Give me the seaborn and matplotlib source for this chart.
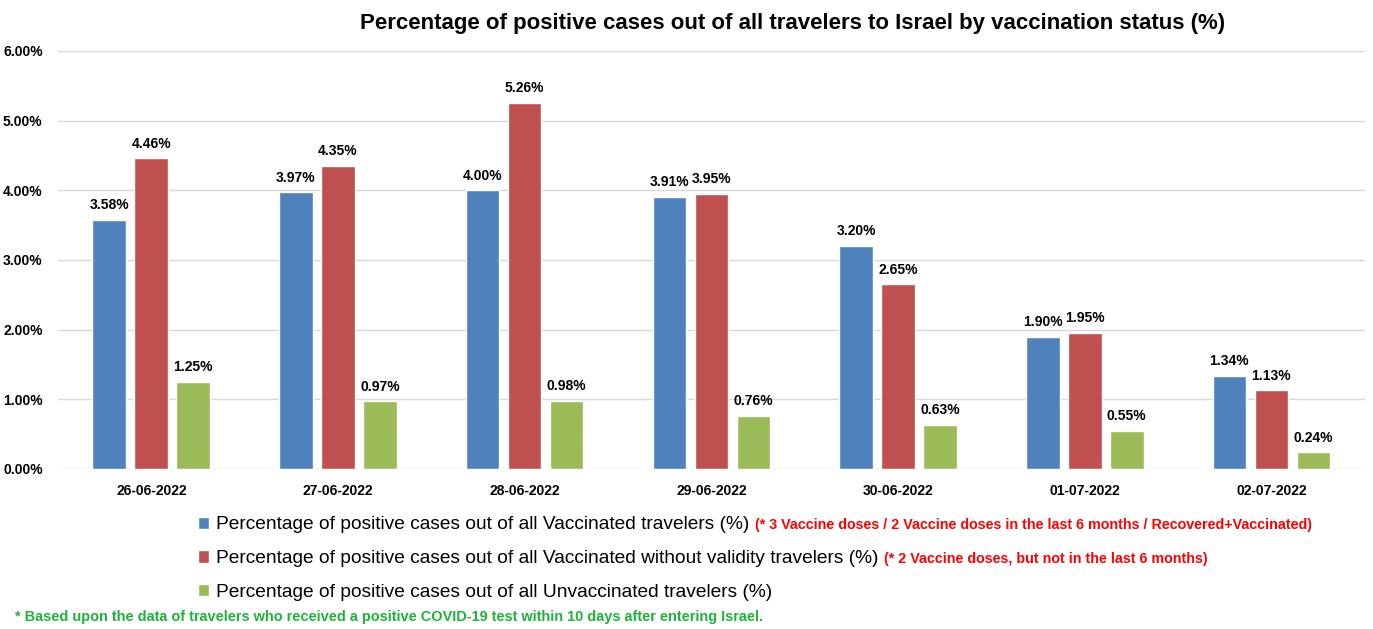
import pandas as pd
import seaborn as sns
import matplotlib.pyplot as plt
from matplotlib.patches import Patch

# Datos del gráfico
dates = ['26-06-2022', '27-06-2022', '28-06-2022', '29-06-2022',
         '30-06-2022', '01-07-2022', '02-07-2022']
vaccinated = [3.58, 3.97, 4.00, 3.91, 3.20, 1.90, 1.34]
without_validity = [4.46, 4.35, 5.26, 3.95, 2.65, 1.95, 1.13]
unvaccinated = [1.25, 0.97, 0.98, 0.76, 0.63, 0.55, 0.24]

series_names = [
    'Percentage of positive cases out of all Vaccinated travelers (%)',
    'Percentage of positive cases out of all Vaccinated without validity travelers (%)',
    'Percentage of positive cases out of all Unvaccinated travelers (%)',
]
series_notes = [
    '(* 3 Vaccine doses / 2 Vaccine doses in the last 6 months / Recovered+Vaccinated)',
    '(* 2 Vaccine doses, but not in the last 6 months)',
    '',
]
colors = ['#4f81bd', '#c0504d', '#9bbb59']

df = pd.DataFrame({
    'date': dates * 3,
    'value': vaccinated + without_validity + unvaccinated,
    'serie': [series_names[0]] * 7 + [series_names[1]] * 7 + [series_names[2]] * 7,
})

sns.set_style('white')
plt.rcParams['font.family'] = ['Liberation Sans', 'DejaVu Sans']
plt.rcParams['text.color'] = 'black'
plt.rcParams['xtick.color'] = 'black'
plt.rcParams['ytick.color'] = 'black'

fig = plt.figure(figsize=(13.73, 6.29), dpi=100)
ax = fig.add_axes([0.0422, 0.2544, 0.9518, 0.6646])

sns.barplot(data=df, x='date', y='value', hue='serie', palette=colors,
            width=0.675, gap=0.2, ax=ax, legend=False, saturation=1)

# Etiquetas de valores
for cont in ax.containers:
    for bar in cont:
        h = bar.get_height()
        ax.annotate('%.2f%%' % h, (bar.get_x() + bar.get_width() / 2, h),
                    xytext=(0, 5.5), textcoords='offset points',
                    ha='center', va='bottom', fontsize=10, fontweight='bold')

ax.set_ylim(0, 6)
ax.set_xlim(-0.5, 6.5)
ax.set_yticks([0, 1, 2, 3, 4, 5, 6])
ax.set_yticklabels(['%.2f%%' % v for v in range(7)], fontsize=10, fontweight='bold')
ax.set_xticklabels(dates, fontsize=10, fontweight='bold')
ax.tick_params(axis='x', length=0, pad=11)
ax.tick_params(axis='y', length=0, pad=11)
ax.set_xlabel('')
ax.set_ylabel('')
ax.grid(axis='y', color='#d9d9d9', linewidth=1)
ax.set_axisbelow(True)
for s in ax.spines.values():
    s.set_visible(False)

fig.text(0.577, 0.963, 'Percentage of positive cases out of all travelers to Israel by vaccination status (%)',
         ha='center', va='center', fontsize=16, fontweight='bold')

# Leyenda manual
handles = [Patch(facecolor=c) for c in colors]
leg = fig.legend(handles, series_names, loc='upper left', bbox_to_anchor=(0.144, 0.179),
                 frameon=False, fontsize=13.8, handlelength=0.6, handleheight=0.6,
                 handletextpad=0.35, labelspacing=0.88, borderaxespad=0, borderpad=0)

fig.canvas.draw()
inv = fig.transFigure.inverted()
for txt, note in zip(leg.get_texts(), series_notes):
    if not note:
        continue
    bb = txt.get_window_extent()
    x0, y0 = inv.transform((bb.x1 + 6, (bb.y0 + bb.y1) / 2))
    fig.text(x0, y0, note, ha='left', va='center', fontsize=10.3, fontweight='bold',
             color='#ff0000')

fig.text(0.011, 0.019, '* Based upon the data of travelers who received a positive COVID-19 test within 10 days after entering Israel.',
         ha='left', va='center', fontsize=10.45, fontweight='bold', color='#1fb33a')

fig.savefig('out.png', dpi=100)
